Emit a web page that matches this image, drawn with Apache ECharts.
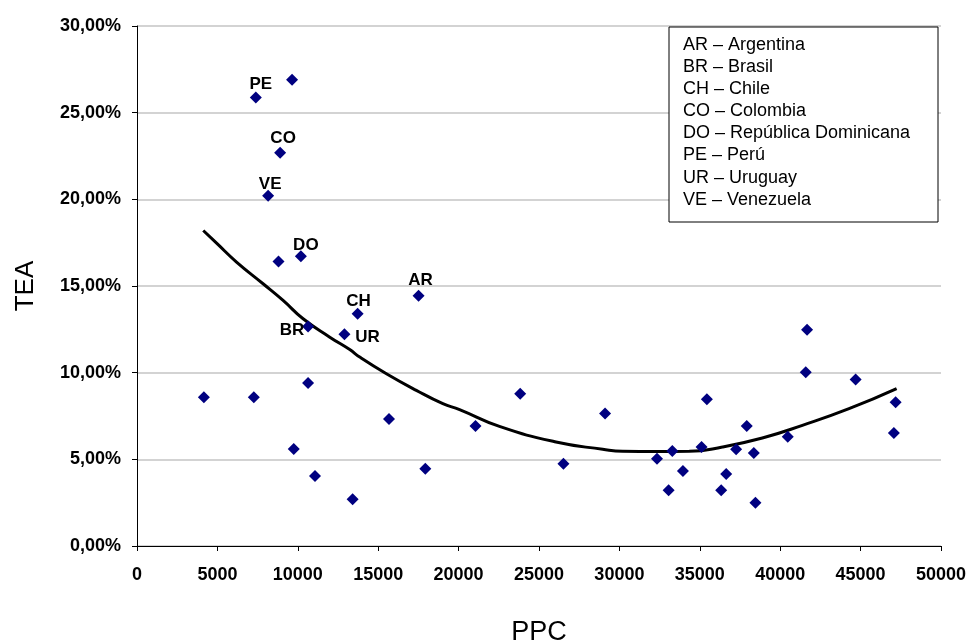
<!DOCTYPE html>
<html>
<head>
<meta charset="utf-8">
<script src="https://cdn.jsdelivr.net/npm/echarts@6/dist/echarts.min.js"></script>
<style>
html,body{margin:0;padding:0;background:#fff;}
#chart{width:970px;height:642px;}
</style>
</head>
<body>
<div id="chart"></div>
<script>
// Data
var ppc = [7390, 8900, 8155, 10190, 17510, 13720, 10640, 12900,
  9645, 8800, 4160, 7266, 10640, 9750, 15670, 11070, 17930, 13410,
  21050, 23830, 26520, 29110, 32340, 33290, 33060, 33950, 35440, 35110,
  36640, 36330, 37260, 37920, 38360, 38460, 40470, 41670, 41590, 44690,
  47180, 47070];
var tea = [25.88, 22.69, 20.2, 16.71, 14.44, 13.40, 12.67, 12.21,
  26.9, 16.42, 8.58, 8.58, 9.40, 5.59, 7.32, 4.04, 4.46, 2.69,
  6.92, 8.79, 4.75, 7.64, 5.04, 5.48, 3.21, 4.33, 8.46, 5.71,
  4.15, 3.21, 5.58, 6.92, 5.36, 2.50, 6.31, 12.48, 10.02, 9.60,
  8.29, 6.52];
var codes = ['PE', 'CO', 'VE', 'DO', 'AR', 'CH', 'BR', 'UR'];

var trendX = [4120, 4950, 6190, 7840, 9085, 10330, 11990, 13230, 13850, 15510,
  17370, 19020, 20060, 22540, 26060, 28960, 30200, 32300, 34340, 36410,
  38890, 41380, 44280, 47240];
var trendY = [18.2, 17.47, 16.38, 15.13, 14.17, 13.11, 12.05, 11.33, 10.9, 9.94,
  8.98, 8.21, 7.87, 6.90, 6.0, 5.58, 5.46, 5.45, 5.46, 5.71,
  6.23, 6.96, 7.92, 9.08];

var legendLines = ['AR – Argentina', 'BR – Brasil', 'CH – Chile', 'CO – Colombia',
  'DO – República Dominicana', 'PE – Perú', 'UR – Uruguay', 'VE – Venezuela'];

var xTitle = 'PPC';
var yTitle = 'TEA';

// Label placement (style, kept separate from data)
var labelOffset = {
  PE: [5, -13], CO: [3, -14], VE: [2, -12], DO: [5, -11],
  AR: [2, -15], CH: [1, -12], BR: [-16, 4], UR: [23, 3]
};

var chart = echarts.init(document.getElementById('chart'), null, {renderer: 'canvas'});

var pointData = ppc.map(function (x, i) {
  var item = {value: [x, tea[i]]};
  var c = codes[i];
  if (c) {
    item.label = {
      show: true,
      formatter: c,
      position: 'inside',
      offset: labelOffset[c],
      align: 'center',
      verticalAlign: 'middle',
      color: '#000',
      textBorderWidth: 0,
      textBorderColor: 'transparent',
      fontFamily: 'Liberation Sans, Arial, sans-serif',
      fontWeight: 'bold',
      fontSize: 17
    };
  }
  return item;
});

var trendData = trendX.map(function (x, i) { return [x, trendY[i]]; });

var legendChildren = [{
  type: 'rect',
  z: 100,
  shape: {x: 0, y: 0, width: 269, height: 195},
  style: {fill: '#fff', stroke: '#000', lineWidth: 1}
}];
legendLines.forEach(function (t, i) {
  legendChildren.push({
    type: 'text',
    z: 101,
    x: 14,
    y: 18 + i * 22.1,
    style: {
      text: t,
      fill: '#000',
      font: '18px "Liberation Sans", Arial, sans-serif',
      verticalAlign: 'middle',
      align: 'left'
    }
  });
});

var fontFam = 'Liberation Sans, Arial, sans-serif';

chart.setOption({
  animation: false,
  backgroundColor: '#fff',
  grid: {left: 137, right: 29, top: 26, bottom: 96, containLabel: false, outerBoundsMode: 'none'},
  xAxis: {
    type: 'value',
    min: 0, max: 50000, interval: 5000,
    name: xTitle,
    nameLocation: 'middle',
    nameGap: 73,
    nameTextStyle: {fontFamily: fontFam, fontSize: 27, color: '#000'},
    axisLine: {show: true, onZero: false, lineStyle: {color: '#000', width: 1}},
    axisTick: {show: true, inside: false, length: 5, lineStyle: {color: '#000'}},
    axisLabel: {
      fontFamily: fontFam, fontSize: 18, fontWeight: 'bold', color: '#000', margin: 20,
      formatter: function (v) { return String(v); }
    },
    splitLine: {show: false}
  },
  yAxis: {
    type: 'value',
    min: 0, max: 30, interval: 5,
    name: yTitle,
    nameLocation: 'middle',
    nameGap: 98,
    nameRotate: 90,
    nameTextStyle: {fontFamily: fontFam, fontSize: 26, color: '#000'},
    axisLine: {show: true, onZero: false, lineStyle: {color: '#000', width: 1}},
    axisTick: {show: true, inside: false, length: 5, lineStyle: {color: '#000'}},
    axisLabel: {
      fontFamily: fontFam, fontSize: 18, fontWeight: 'bold', color: '#000', margin: 16,
      formatter: function (v) { return v.toFixed(2).replace('.', ',') + '%'; }
    },
    splitLine: {show: true, lineStyle: {color: '#c4c4c4', width: 1.5}}
  },
  series: [
    {
      type: 'line',
      data: trendData,
      smooth: true,
      showSymbol: false,
      symbol: 'none',
      lineStyle: {color: '#000', width: 3},
      z: 2,
      silent: true
    },
    {
      type: 'scatter',
      data: pointData,
      symbol: 'diamond',
      symbolSize: 12,
      itemStyle: {color: '#000080', opacity: 1},
      z: 3
    }
  ],
  graphic: [{
    type: 'group',
    x: 669,
    y: 27,
    z: 100,
    children: legendChildren
  }]
});
</script>
</body>
</html>
